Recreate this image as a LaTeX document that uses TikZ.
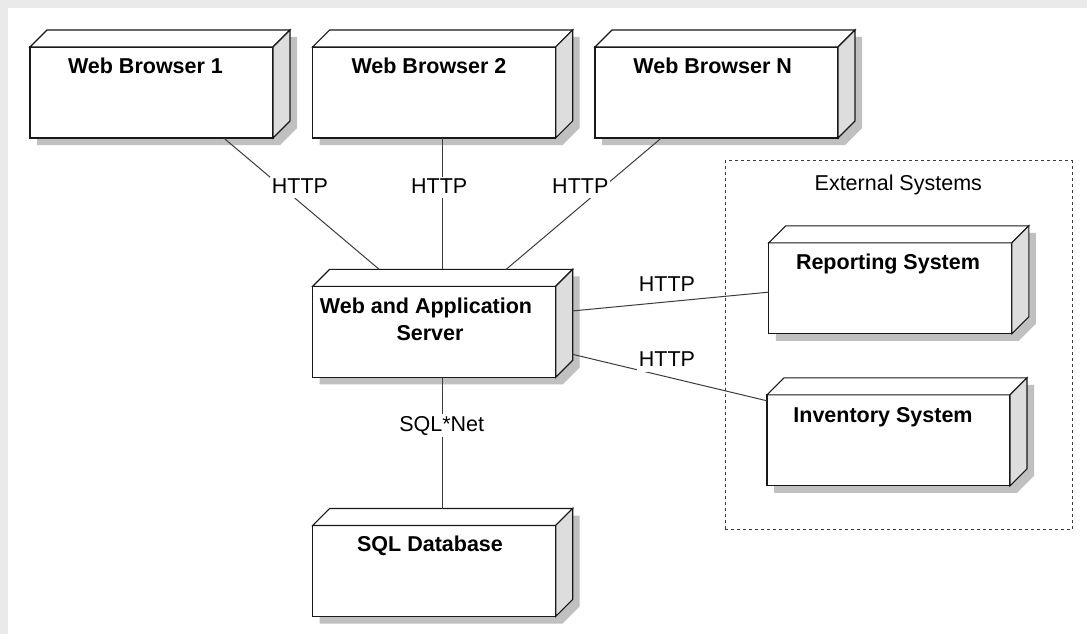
\documentclass[tikz,border=0pt]{standalone}
\usepackage{fontspec}
\setmainfont{Liberation Sans}
\usetikzlibrary{calc}

\definecolor{pagegray}{RGB}{234,234,234}
\definecolor{shadowgray}{RGB}{192,192,192}
\definecolor{sidegray}{RGB}{221,221,221}
\definecolor{edgecol}{RGB}{25,25,25}
\definecolor{linkcol}{RGB}{60,60,60}

% UML deployment node: an invisible bounding rectangle (used for the
% connectors) plus a drop shadow, front face, top face and side face.
\newcommand\deplbox[2]{%
  \node[depl] (#1) at (#2) {};
  \coordinate (#1-A) at (#1.south west);
  \coordinate (#1-B) at ($(#1.north west)+(0pt,-17pt)$);
  \coordinate (#1-C) at ($(#1.north west)+(17pt,0pt)$);
  \coordinate (#1-D) at (#1.north east);
  \coordinate (#1-E) at ($(#1.south east)+(0pt,17pt)$);
  \coordinate (#1-F) at ($(#1.south east)+(-17pt,0pt)$);
  \coordinate (#1-G) at ($(#1.north east)+(-17pt,-17pt)$);
  \fill[shadowgray] ($(#1-A)+(7pt,-7pt)$) -- ($(#1-B)+(7pt,-7pt)$)
    -- ($(#1-C)+(7pt,-7pt)$) -- ($(#1-D)+(7pt,-7pt)$)
    -- ($(#1-E)+(7pt,-7pt)$) -- ($(#1-F)+(7pt,-7pt)$) -- cycle;
  \draw[boxedge, fill=white] (#1-A) -- (#1-B) -- (#1-G) -- (#1-F) -- cycle;
  \draw[boxedge, fill=white] (#1-B) -- (#1-C) -- (#1-D) -- (#1-G) -- cycle;
  \draw[boxedge, fill=sidegray] (#1-G) -- (#1-D) -- (#1-E) -- (#1-F) -- cycle;
}

\begin{document}
\begin{tikzpicture}[x=1pt, y=-1pt,
  depl/.style={rectangle, inner sep=0pt, outer sep=0pt,
    minimum width=260pt, minimum height=108pt},
  boxedge/.style={draw=edgecol, line width=1.1pt},
  title/.style={anchor=base, inner sep=0pt,
    font=\fontsize{21.5pt}{26pt}\selectfont\bfseries},
  link/.style={draw=linkcol, line width=1pt},
  linklabel/.style={anchor=base, fill=white, inner sep=2pt, text depth=3pt,
    font=\fontsize{21.5pt}{26pt}\selectfont},
  groupframe/.style={rectangle, draw=linkcol, line width=1pt,
    dash pattern=on 3pt off 3pt, inner sep=0pt,
    minimum width=347pt, minimum height=369pt},
  grouptitle/.style={anchor=base, inner sep=0pt,
    font=\fontsize{21.5pt}{26pt}\selectfont}
]
\useasboundingbox (0,0) rectangle (1087,634);

% page background with the grey strips along the top and left edges
\fill[white] (0,0) rectangle (1087,634);
\fill[pagegray] (0,0) rectangle (1087,8);
\fill[pagegray] (0,0) rectangle (8,634);

% group frame for the external systems
\node[groupframe] (ext) at (898.5,345) {};
\node[grouptitle] (exttitle) at (898.3,190) {External Systems};

% deployment nodes
\deplbox{wb1}{160,84}
\deplbox{wb2}{442.7,84}
\deplbox{wbn}{725,84}
\deplbox{srv}{442.7,323.3}
\deplbox{db}{442.7,562.5}
\deplbox{rep}{898.8,279.8}
\deplbox{inv}{897,431.8}

% titles
\node[title] (wb1t) at (145.5,74) {Web Browser 1};
\node[title] (wb2t) at (429,74) {Web Browser 2};
\node[title] (wbnt) at (712.7,74) {Web Browser N};
\node[title] (srvt1) at (426,313) {Web and Application};
\node[title] (srvt2) at (430,340.7) {Server};
\node[title] (rept) at (888,269) {Reporting System};
\node[title] (invt) at (883,422) {Inventory System};
\node[title] (dbt) at (430,551.7) {SQL Database};

% connectors
\draw[link] (wb1) -- (srv);
\draw[link] (wb2) -- (srv);
\draw[link] (wbn) -- (srv);
\draw[link] (srv) -- (rep);
\draw[link] (srv) -- (inv);
\draw[link] (srv) -- (db);

% connector labels
\node[linklabel] (l1) at (300,193.3) {HTTP};
\node[linklabel] (l2) at (439.2,193.3) {HTTP};
\node[linklabel] (l3) at (580.3,193.3) {HTTP};
\node[linklabel] (l4) at (667,291.7) {HTTP};
\node[linklabel] (l5) at (667,366.7) {HTTP};
\node[linklabel] (l6) at (441.7,431.5) {SQL*Net};
\end{tikzpicture}
\end{document}
